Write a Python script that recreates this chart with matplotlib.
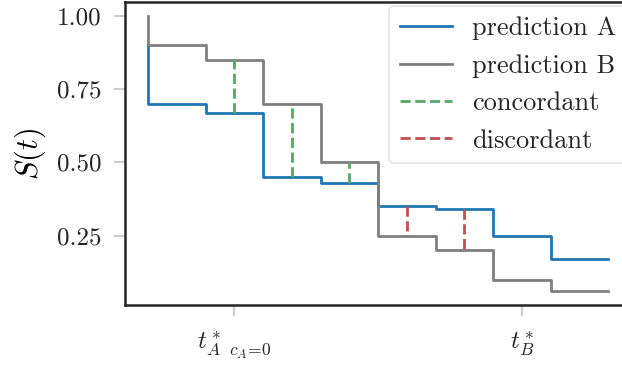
import matplotlib
matplotlib.use('Agg')
import matplotlib.pyplot as plt
import numpy as np

plt.rcParams['font.family'] = 'serif'
plt.rcParams['font.serif'] = ['cmr10']
plt.rcParams['mathtext.fontset'] = 'cm'
plt.rcParams['axes.formatter.use_mathtext'] = True
plt.rcParams['axes.unicode_minus'] = False

# survival curves of the two predictions (step, where='pre')
times = np.arange(9)
surv_a = [0.90, 0.70, 0.67, 0.45, 0.43, 0.35, 0.34, 0.25, 0.17]
surv_b = [1.00, 0.90, 0.85, 0.70, 0.50, 0.25, 0.20, 0.10, 0.06]

# pairs compared in the middle of each interval
pair_idx = [2, 3, 4, 5, 6]
pair_kind = ['concordant', 'concordant', 'concordant', 'discordant', 'discordant']

xtick_pos = [1.5, 6.5]
xtick_labels = [r'$t^*_{A\ \ c_A\!=\!0}$', r'$t^*_B$']
yticks = [0.25, 0.50, 0.75, 1.00]

blue = '#1f77b4'
grey = '#7f7f7f'
green = '#55a868'
red = '#c44e52'

fig = plt.figure(figsize=(6.22, 3.65), dpi=100)
ax = fig.add_axes([0.201, 0.1644, 0.8135, 0.830])

ax.step(times, surv_a, where='pre', color=blue, lw=2, label='prediction A')
ax.step(times, surv_b, where='pre', color=grey, lw=2, label='prediction B')

seen = set()
for i, kind in zip(pair_idx, pair_kind):
    t = times[i] - 0.5
    c = green if kind == 'concordant' else red
    lab = kind if kind not in seen else None
    seen.add(kind)
    ax.plot([t, t], [surv_a[i], surv_b[i]], color=c, lw=2, ls='--', label=lab)

ax.set_xticks(xtick_pos)
ax.set_xticklabels(xtick_labels)
ax.set_yticks(yticks)
ax.set_yticklabels([f'{v:.2f}' for v in yticks])
ax.set_ylabel(r'$S(t)$', fontsize=22, labelpad=6)

ax.tick_params(axis='both', colors='#cccccc', length=8, width=1.5,
               labelsize=18, labelcolor='#262626')
ax.tick_params(axis='x', pad=10)
ax.tick_params(axis='y', pad=9)
for s in ax.spines.values():
    s.set_color('#262626')
    s.set_linewidth(1.8)

leg = ax.legend(loc='upper right', fontsize=19, frameon=True, borderaxespad=0.15,
                handlelength=2.0, handletextpad=0.75, labelspacing=0.52,
                borderpad=0.4, fancybox=True)
leg.get_frame().set_edgecolor('#dddddd')
leg.get_frame().set_linewidth(1.2)
for t in leg.get_texts():
    t.set_color('#262626')

fig.savefig('out.png', dpi=100)
